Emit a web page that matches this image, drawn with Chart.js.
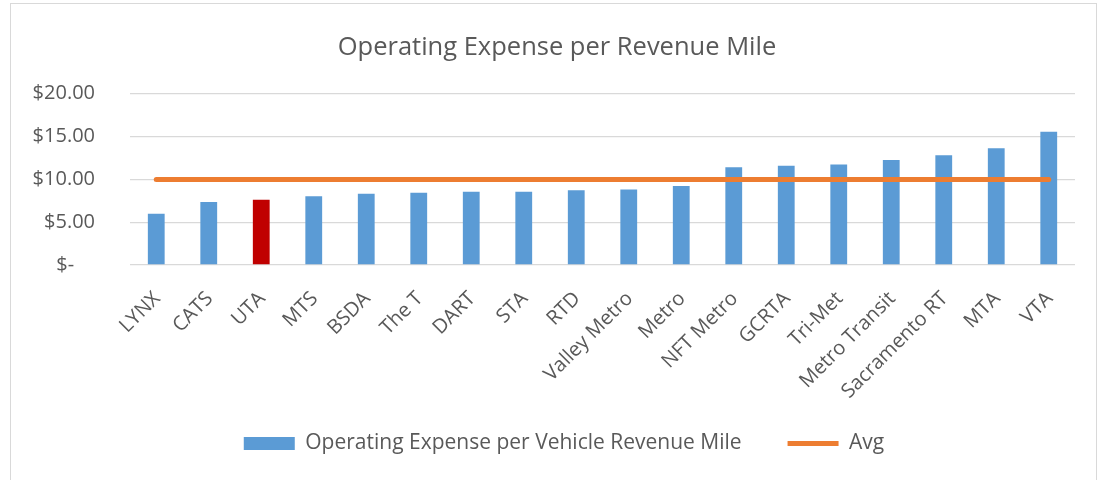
<!DOCTYPE html>
<html>
<head>
<meta charset="utf-8">
<script src="https://cdn.jsdelivr.net/npm/chart.js@4.4.0/dist/chart.umd.min.js"></script>
<style>
  html, body { margin: 0; padding: 0; background: #fff; overflow: hidden; }
  #frame { position: absolute; left: 10px; top: 3px; width: 1085px; height: 490px; border: 1px solid #d9d9d9; }
  #wrap { position: absolute; left: 0; top: 0; width: 1085px; height: 476px; }
</style>
</head>
<body>
<div id="frame"><div id="wrap"><canvas id="myChart"></canvas></div></div>
<script>
// values
const agencies = ['LYNX', 'CATS', 'UTA', 'MTS', 'BSDA', 'The T', 'DART', 'STA', 'RTD', 'Valley Metro',
  'Metro', 'NFT Metro', 'GCRTA', 'Tri-Met', 'Metro Transit', 'Sacramento RT', 'MTA', 'VTA'];
const costPerMile = [5.98, 7.36, 7.60, 8.03, 8.31, 8.43, 8.54, 8.54, 8.72, 8.82,
  9.21, 11.42, 11.57, 11.73, 12.24, 12.80, 13.62, 15.55];
const avgLine = [9.97, 9.97, 9.97, 9.97, 9.97, 9.97, 9.97, 9.97, 9.97, 9.97,
  9.97, 9.97, 9.97, 9.97, 9.97, 9.97, 9.97, 9.97];
const yTicks = [0, 5, 10, 15, 20];

const blue = '#5B9BD5';
const red = '#C00000';
const orange = '#ED7D31';
const txt = '#595959';
const font = 'Open Sans';

// UTA is highlighted in red
const barColors = agencies.map(a => a === 'UTA' ? red : blue);

// excel centres title/legend on the whole frame, and the long
// category labels run down into the legend box, so dont clip them
const tweakLayout = {
  id: 'tweakLayout',
  afterLayout(chart) {
    chart.titleBlock.left += 14;
    chart.titleBlock.right += 14;
    chart.legend.left += 21;
    chart.legend.right += 21;
    chart.scales.x.bottom = chart.height;
  }
};

const ctx = document.getElementById('myChart');
new Chart(ctx, {
  data: {
    labels: agencies,
    datasets: [{
      type: 'bar',
      label: 'Operating Expense per Vehicle Revenue Mile',
      data: costPerMile,
      backgroundColor: barColors,
      barPercentage: 0.32,
      categoryPercentage: 1,
      order: 1
    }, {
      type: 'line',
      label: 'Avg',
      data: avgLine,
      borderColor: orange,
      backgroundColor: orange,
      borderWidth: 5,
      borderCapStyle: 'round',
      pointRadius: 0,
      order: 0
    }]
  },
  plugins: [tweakLayout],
  options: {
    responsive: true,
    maintainAspectRatio: false,
    animation: false,
    layout: { padding: { left: 0, right: 21, top: 0, bottom: 16 } },
    plugins: {
      tooltip: { enabled: false },
      title: {
        display: true,
        text: 'Operating Expense per Revenue Mile',
        color: txt,
        font: { family: font, size: 25.5, weight: 'normal' },
        padding: { top: 28, bottom: 31 }
      },
      legend: {
        position: 'bottom',
        labels: {
          color: txt,
          font: { family: font, size: 21 },
          usePointStyle: true,
          pointStyleWidth: 51,
          boxHeight: 13,
          padding: 46,
          sort: (a, b) => a.datasetIndex - b.datasetIndex,
          generateLabels: chart => Chart.defaults.plugins.legend.labels.generateLabels(chart).map(item => {
            item.pointStyle = item.datasetIndex === 0 ? 'rect' : 'line';
            return item;
          })
        }
      }
    },
    scales: {
      x: {
        grid: { display: false, drawTicks: false },
        border: { display: false },
        ticks: {
          color: txt,
          font: { family: font, size: 20 },
          minRotation: 45,
          maxRotation: 45,
          autoSkip: false,
          padding: 22,
          labelOffset: 1
        },
        afterFit: s => { s.height = 122; }
      },
      y: {
        min: 0,
        max: 20,
        afterBuildTicks: s => { s.ticks = yTicks.map(v => ({ value: v })); },
        grid: { color: '#D9D9D9', lineWidth: 1.3, drawTicks: false },
        border: { display: false },
        ticks: {
          color: txt,
          font: { family: font, size: 20 },
          padding: 35,
          callback: v => v === 0 ? '$-    ' : '$' + v.toFixed(2)
        },
        afterFit: s => { s.width = 119; }
      }
    }
  }
});
</script>
</body>
</html>
